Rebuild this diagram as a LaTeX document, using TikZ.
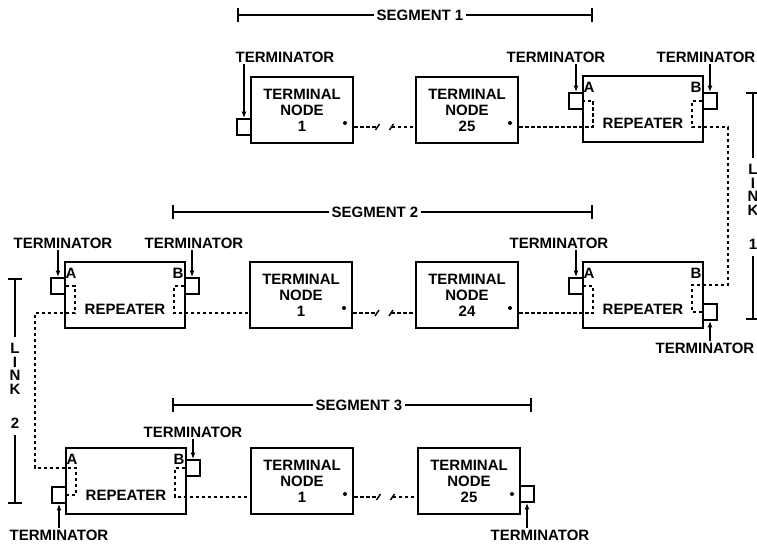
\documentclass[tikz,border=0pt]{standalone}
\usepackage{fontspec}
\setmainfont{Liberation Sans}
\usetikzlibrary{arrows.meta,calc}

\newcommand{\labelfont}{\fontsize{15}{16}\selectfont\bfseries}

\tikzset{
  unit/.style={draw,line width=2pt,minimum width=102pt,minimum height=66pt,inner sep=0pt,align=center,font=\labelfont},
  rptr/.style={unit,minimum width=120pt},
  termbox/.style={draw,line width=1.8pt,minimum width=14pt,minimum height=16pt,inner sep=0pt},
  cable/.style={line width=1.4pt,dash pattern=on 3.5pt off 2.5pt},
  tag/.style={font=\labelfont,inner sep=1.5pt},
  feed/.style={line width=1.5pt,-{Latex[length=6.5pt,width=5pt]}},
  span/.style={line width=1.6pt,{Bar[width=14pt]}-{Bar[width=14pt]}},
  linktag/.style={font=\fontsize{15}{13.5}\selectfont\bfseries,align=center,fill=white,inner xsep=1pt,inner ysep=6.5pt},
}

\begin{document}
\begin{tikzpicture}[x=1pt,y=-1pt]
  \useasboundingbox (0,0) rectangle (757,545);
  \draw
    (302,110) node[unit] (tn11){TERMINAL\\NODE\\1}
    (467,110) node[unit] (tn125){TERMINAL\\NODE\\25}
    (643,109) node[rptr] (r1){}
    (125,295) node[rptr] (r2a){}
    (301,295) node[unit] (tn21){TERMINAL\\NODE\\1}
    (467,295) node[unit] (tn224){TERMINAL\\NODE\\24}
    (643,295) node[rptr] (r2b){}
    (126,481) node[rptr] (r3){}
    (302,481) node[unit] (tn31){TERMINAL\\NODE\\1}
    (469,481) node[unit] (tn325){TERMINAL\\NODE\\25};
  % repeater texts and ports
  \foreach \r in {r1,r2a,r2b,r3} {
    \node[tag] at ([yshift=-14pt]\r.center) {REPEATER};
    \node[tag] (\r A) at ([shift={(7,12)}]\r.north west) {A};
    \node[tag] (\r B) at ([shift={(-8,12)}]\r.north east) {B};
  }
  \foreach \t in {tn11,tn125,tn21,tn224,tn31,tn325}
    \fill ([shift={(-9,13)}]\t.east) circle (2pt);
  % terminators
  \draw
    (244,127) node[termbox] (t11){}
    (576,101) node[termbox] (t1a){}
    (710,101) node[termbox] (t1b){}
    (58,286) node[termbox] (t2a){}
    (192,286) node[termbox] (t2b){}
    (576,286) node[termbox] (t2c){}
    (710,312) node[termbox] (t2d){}
    (59,495) node[termbox] (t3a){}
    (193,468) node[termbox] (t3b){}
    (527,494) node[termbox] (t3c){};
  \draw
    (285,57) node[tag] (l11){TERMINATOR}
    (556,57) node[tag] (l1a){TERMINATOR}
    (706,57) node[tag] (l1b){TERMINATOR}
    (63,243) node[tag] (l2a){TERMINATOR}
    (194,243) node[tag] (l2b){TERMINATOR}
    (559,243) node[tag] (l2c){TERMINATOR}
    (705,348) node[tag] (l2d){TERMINATOR}
    (59,535) node[tag] (l3a){TERMINATOR}
    (193,432) node[tag] (l3b){TERMINATOR}
    (540,535) node[tag] (l3c){TERMINATOR};
  \begin{scope}[feed]
    \draw (t11 |- l11.south) -- (t11.north);
    \draw (t1a |- l1a.south) -- (t1a.north);
    \draw (t1b |- l1b.south) -- (t1b.north);
    \draw (t2a |- l2a.south) -- (t2a.north);
    \draw (t2b |- l2b.south) -- (t2b.north);
    \draw (t2c |- l2c.south) -- (t2c.north);
    \draw (t2d |- l2d.north) -- (t2d.south);
    \draw (t3a |- l3a.north) -- (t3a.south);
    \draw (t3b |- l3b.south) -- (t3b.north);
    \draw (t3c |- l3c.north) -- (t3c.south);
  \end{scope}
  % cables
  \coordinate (row1) at (0,127);
  \coordinate (row2) at (0,313);
  \coordinate (row3) at (0,497);
  \coordinate (j1) at (728,285);
  \coordinate (j2) at (35,468);
  \coordinate (g1) at ($(tn11.east |- row1)!0.5!(tn125.west |- row1)$);
  \coordinate (g2) at ($(tn21.east |- row2)!0.5!(tn224.west |- row2)$);
  \coordinate (g3) at ($(tn31.east |- row3)!0.5!(tn325.west |- row3)$);
  \begin{scope}[cable]
    \draw (tn11.east |- row1) -- ([xshift=-7pt]g1);
    \draw ([xshift=7pt]g1) -- (tn125.west |- row1);
    \draw (tn125.east |- row1) -- (r1.west |- row1) -- ([xshift=11pt]r1.west |- row1) |- (t1a.east);
    \draw (t1b.west) -| ([xshift=-12pt]r1.east |- row1) -- (r1.east |- row1) -| (j1) -- (r2b.east |- j1) -| ([xshift=-12pt]r2b.east |- t2d) -- (t2d.west);
    \draw (tn224.east |- row2) -- (r2b.west |- row2) -- ([xshift=11pt]r2b.west |- row2) |- (t2c.east);
    \draw (tn21.east |- row2) -- ([xshift=-7pt]g2);
    \draw ([xshift=7pt]g2) -- (tn224.west |- row2);
    \draw (t2b.west) -| ([xshift=-12pt]r2a.east |- row2) -- (tn21.west |- row2);
    \draw (t2a.east) -| ([xshift=11pt]r2a.west |- row2) -- (r2a.west |- row2) -| (j2) -- (r3.west |- j2) -- ([xshift=11pt]r3.west |- j2) |- (t3a.east);
    \draw (t3b.west) -| ([xshift=-12pt]r3.east |- row3) -- (tn31.west |- row3);
    \draw (tn31.east |- row3) -- ([xshift=-7pt]g3);
    \draw ([xshift=7pt]g3) -- (tn325.west |- row3);
  \end{scope}
  \foreach \g in {g1,g2,g3} {
    \draw[line width=1.5pt] ([shift={(-9,3)}]\g) -- ([shift={(-5,-3)}]\g);
    \draw[line width=1.5pt] ([shift={(5,3)}]\g) -- ([shift={(9,-3)}]\g);
  }
  % segments and links
  \coordinate (s1l) at (237,15);
  \coordinate (s1r) at (593,15);
  \coordinate (s2l) at (172,212);
  \coordinate (s2r) at (593,212);
  \coordinate (s3l) at (172,405);
  \coordinate (s3r) at (532,405);
  \coordinate (k1t) at (753,92);
  \coordinate (k1b) at (753,320);
  \coordinate (k2t) at (15,278);
  \coordinate (k2b) at (15,504);
  \draw[span] (s1l) -- (s1r);
  \draw[span] (s2l) -- (s2r);
  \draw[span] (s3l) -- (s3r);
  \draw[span] (k1t) -- (k1b);
  \draw[span] (k2t) -- (k2b);
  \draw
    (420,15) node[tag,fill=white,inner xsep=3pt] (seg1){SEGMENT 1}
    (375,212) node[tag,fill=white,inner xsep=3pt] (seg2){SEGMENT 2}
    (359,405) node[tag,fill=white,inner xsep=3pt] (seg3){SEGMENT 3}
    (753,207) node[linktag] (lk1){L\\I\\N\\K\\[21pt]1}
    (15,386) node[linktag] (lk2){L\\I\\N\\K\\[21pt]2};
\end{tikzpicture}
\end{document}
